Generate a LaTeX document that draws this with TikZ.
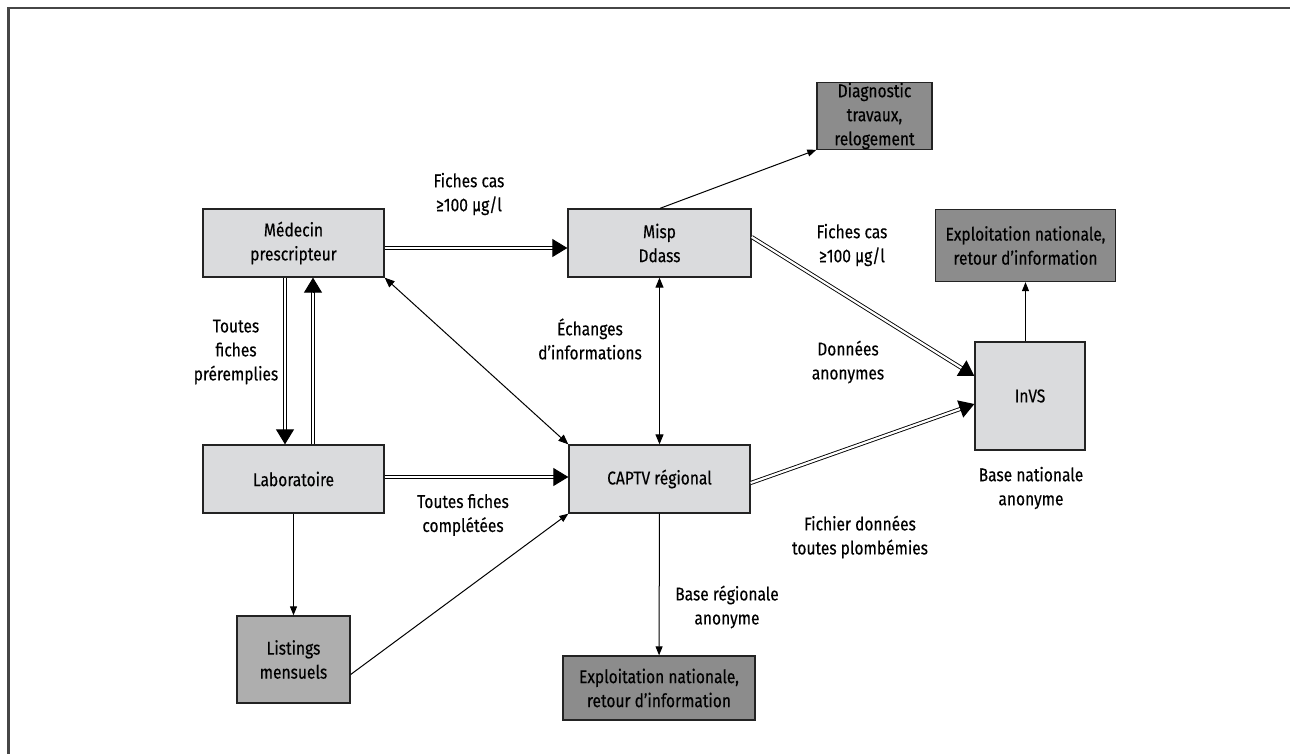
\documentclass[tikz,border=0pt]{standalone}
\usepackage{fontspec}
\setmainfont{Fira Sans}[FakeStretch=0.84,FakeBold=0.35]
\usetikzlibrary{arrows.meta,calc}
\definecolor{lightbox}{RGB}{218,219,221}
\definecolor{midbox}{RGB}{174,174,174}
\definecolor{darkbox}{RGB}{140,140,140}
\definecolor{boxline}{RGB}{35,35,35}
\definecolor{framegray}{RGB}{70,70,70}
\begin{document}
\begin{tikzpicture}[x=1bp,y=-1bp,
  font=\fontsize{18.5bp}{24bp}\selectfont,
  box/.style={draw=boxline,line width=1.3bp,fill=lightbox,align=center,inner sep=0pt},
  lbl/.style={align=center,inner sep=0pt},
  dbl/.style={double=white,double distance=2.2bp,line width=0.9bp,draw=black},
  bigtip/.style={-{Triangle[length=15bp,width=18bp]},line width=0.9bp},
  thin/.style={line width=1bp,draw=black},
  smalltip/.style={-{Triangle[length=9bp,width=7bp]}},
  bothtip/.style={{Triangle[length=10bp,width=8bp]}-{Triangle[length=10bp,width=8bp]}}]
\useasboundingbox (0,0) rectangle (1290,754);
\draw[line width=2.2bp,framegray] (8.5,754) -- (8.5,8) -- (1290,8);

% boxes
\node[box,minimum width=181bp,minimum height=68bp] (med) at (293.5,243) {Médecin\\prescripteur};
\node[box,minimum width=183bp,minimum height=68bp] (misp) at (659.5,243) {Misp\\Ddass};
\node[box,fill=darkbox,minimum width=115bp,minimum height=66bp] (diag) at (874.5,116) {Diagnostic\\travaux,\\relogement};
\node[box,fill=darkbox,minimum width=180bp,minimum height=72bp] (expt) at (1025.5,245.5) {Exploitation nationale,\\retour d’information};
\node[box,minimum width=110bp,minimum height=108bp] (invs) at (1030,396) {InVS};
\node[box,minimum width=181bp,minimum height=68bp] (lab) at (293.5,479) {Laboratoire};
\node[box,minimum width=181bp,minimum height=68bp] (captv) at (659.5,479) {CAPTV régional};
\node[box,fill=midbox,minimum width=113bp,minimum height=87bp] (list) at (293.5,659.5) {Listings\\mensuels};
\node[box,fill=darkbox,minimum width=192bp,minimum height=64bp] (expb) at (659,688) {Exploitation nationale,\\retour d’information};

% labels
\node[lbl] (l1) at (469,194) {Fiches cas\\≥100 µg/l};
\node[lbl] (l2) at (852,245) {Fiches cas\\≥100 µg/l};
\node[lbl] (l3) at (236,352) {Toutes\\fiches\\préremplies};
\node[lbl] (l4) at (590,339) {Échanges\\d’informations};
\node[lbl] (l5) at (848,362) {Données\\anonymes};
\node[lbl] (l6) at (1031,488) {Base nationale\\anonyme};
\node[lbl] (l7) at (463,515) {Toutes fiches\\complétées};
\node[lbl] (l8) at (860,537) {Fichier données\\toutes plombémies};
\node[lbl] (l9) at (727,607) {Base régionale\\anonyme};

% coordinates for connector ends
\coordinate (a1) at ($(med.east)+(0,5)$);
\coordinate (a2) at ($(misp.west)+(0,5)$);
\coordinate (b1) at ($(med.south)+(-8.5,0)$);
\coordinate (b2) at ($(lab.north)+(-8.5,0)$);
\coordinate (c1) at ($(lab.north)+(19.5,0)$);
\coordinate (c2) at ($(med.south)+(19.5,0)$);
\coordinate (d1) at ($(lab.east)+(0,-2)$);
\coordinate (d2) at ($(captv.west)+(0,-2)$);
\coordinate (e1) at ($(misp.east)+(0,-6)$);
\coordinate (e2) at ($(invs.west)+(0,-20)$);
\coordinate (f1) at ($(captv.east)+(0,4)$);
\coordinate (f2) at ($(invs.west)+(0,8)$);
\coordinate (g1) at ($(list.east)+(0,15)$);
\coordinate (h1) at ($(misp.north)+(0.5,0)$);

% double connectors
\draw[dbl] (a1) -- ($(a2)!14bp!(a1)$);
\draw[bigtip] ($(a2)!14bp!(a1)$) -- (a2);
\draw[dbl] (b1) -- ($(b2)!14bp!(b1)$);
\draw[bigtip] ($(b2)!14bp!(b1)$) -- (b2);
\draw[dbl] (c1) -- ($(c2)!14bp!(c1)$);
\draw[bigtip] ($(c2)!14bp!(c1)$) -- (c2);
\draw[dbl] (d1) -- ($(d2)!14bp!(d1)$);
\draw[bigtip] ($(d2)!14bp!(d1)$) -- (d2);
\draw[dbl] (e1) -- ($(e2)!14bp!(e1)$);
\draw[bigtip] ($(e2)!14bp!(e1)$) -- (e2);
\draw[dbl] (f1) -- ($(f2)!14bp!(f1)$);
\draw[bigtip] ($(f2)!14bp!(f1)$) -- (f2);

% single connectors
\draw[thin,smalltip] (lab) -- (list);
\draw[thin,smalltip] (g1) -- (captv.south west);
\draw[thin,bothtip] (med.south east) -- (captv.north west);
\draw[thin,bothtip] (misp) -- (captv);
\draw[thin,smalltip] (h1) -- (diag.south west);
\draw[thin,smalltip] (invs.north -| expt.south) -- (expt.south);
\draw[thin,smalltip] (captv) -- (expb);
\end{tikzpicture}
\end{document}
